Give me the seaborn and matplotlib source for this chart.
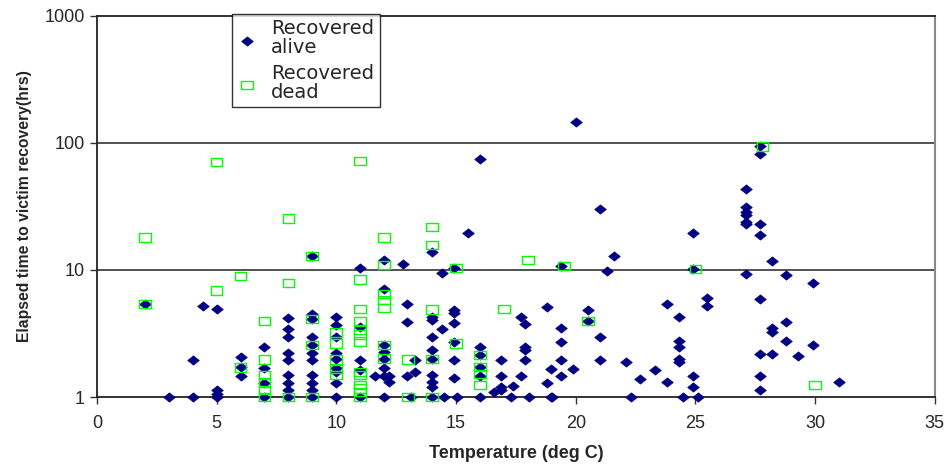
"""
Elapsed time to victim recovery vs water temperature.
Scatter on a log y axis, two series: recovered alive / recovered dead.
"""

import matplotlib
matplotlib.use('Agg')
import matplotlib.pyplot as plt
import matplotlib.ticker as mticker
import pandas as pd
import seaborn as sns

# ------------------------------
# Data
# ------------------------------
alive_temp = [
    2, 3, 4, 4, 4.45, 5, 5, 5, 5, 6, 6, 6, 7, 7, 7, 7,
    8, 8, 8, 8, 8, 8, 8, 8, 8,
    9, 9, 9, 9, 9, 9, 9, 9, 9, 9, 9,
    10, 10, 10, 10, 10, 10, 10, 10, 10,
    11, 11, 11, 11, 11, 11.6,
    12, 12, 12, 12, 12, 12, 12, 12, 12.2, 12.2, 12.8,
    12.95, 12.95, 12.95, 13.1, 13.3, 13.3,
    14, 14, 14, 14, 14, 14, 14, 14, 14, 14, 14.4, 14.4, 14.5,
    14.9, 14.9, 14.9, 14.9, 14.9, 14.9, 14.9, 15.05, 15.5,
    16, 16, 16, 16, 16, 16, 16.6, 16.9, 16.9, 16.9, 16.9, 17.3, 17.4,
    17.7, 17.7, 17.9, 17.9, 17.9, 17.9, 18.05,
    18.8, 18.8, 18.95, 18.95, 19.03,
    19.4, 19.4, 19.4, 19.4, 19.4, 19.9, 20,
    20.5, 20.5, 21, 21, 21, 21.3, 21.6,
    22.1, 22.3, 22.7, 23.3, 23.8, 23.8,
    24.3, 24.3, 24.3, 24.3, 24.3, 24.5,
    24.9, 24.9, 24.9, 24.9, 25.1, 25.5, 25.5,
    27.1, 27.1, 27.1, 27.1, 27.1, 27.1, 27.1,
    27.7, 27.7, 27.7, 27.7, 27.7, 27.7, 27.7, 27.7,
    28.2, 28.2, 28.2, 28.2, 28.8, 28.8, 28.8, 29.3, 29.9, 29.9, 31.0,
]
alive_hours = [
    5.4, 1, 1, 1.96, 5.2, 4.93, 1.13, 1.05, 1, 2.05, 1.71, 1.46, 2.46, 1.68, 1.28, 1,
    4.17, 3.41, 2.95, 2.24, 1.96, 1.49, 1.28, 1.13, 1,
    12.9, 4.5, 4.1, 2.95, 2.57, 2.24, 1.96, 1.49, 1.28, 1.13, 1,
    4.24, 3.69, 2.98, 2.21, 1.98, 1.68, 1.56, 1.28, 1,
    10.3, 3.54, 1.96, 1.63, 1, 1.46,
    12, 7.1, 2.57, 2.27, 2.01, 1.68, 1.46, 1, 1.46, 1.32, 11.1,
    5.4, 3.92, 1.46, 1, 1.96, 1.58,
    13.8, 4.29, 4.04, 2.98, 2.34, 1.98, 1.5, 1.32, 1.2, 1, 9.5, 3.41, 1,
    10.4, 4.84, 4.6, 3.8, 2.7, 1.96, 1.42, 1, 19.6,
    75, 2.49, 2.14, 1.73, 1.47, 1, 1.1, 1.96, 1.47, 1.2, 1.13, 1, 1.22,
    4.3, 1.47, 3.76, 2.49, 2.34, 1.96, 1,
    5.14, 1.3, 1.66, 1, 1,
    10.8, 3.47, 2.7, 1.96, 1.47, 1.66, 147,
    4.84, 3.97, 30, 2.95, 1.96, 9.9, 12.9,
    1.9, 1, 1.38, 1.63, 5.4, 1.32,
    4.29, 2.78, 2.49, 2.0, 1.9, 1,
    19.7, 10.2, 1.47, 1.2, 1, 6.0, 5.2,
    43, 31.2, 28.8, 27.1, 24.0, 23.0, 9.3,
    94, 82, 22.9, 18.9, 5.9, 2.17, 1.46, 1.13,
    11.8, 3.47, 3.27, 2.2, 9.1, 3.92, 2.78, 2.1, 7.95, 2.57, 1.32,
]

dead_temp = [
    2, 2, 5, 5, 6, 6, 7, 7, 7, 7, 7, 7, 8, 8, 8, 9, 9, 9, 9,
    10, 10, 10, 10, 10,
    11, 11, 11, 11, 11, 11, 11, 11, 11, 11, 11, 11, 11,
    12, 12, 12, 12, 12, 12, 12, 13, 13, 14, 14, 14, 14, 14,
    15, 15, 16, 16, 16, 16, 17, 18, 19.5, 20.5, 25, 27.8, 30,
]
dead_hours = [
    18, 5.4, 71, 6.9, 9.0, 1.71, 3.97, 1.98, 1.49, 1.3, 1.13, 1, 25.5, 7.9, 1, 12.9, 4.1, 2.57, 1,
    3.21, 2.64, 1.98, 1.66, 1.49,
    72, 8.4, 4.93, 3.97, 3.37, 3.11, 2.73, 1.58, 1.49, 1.24, 1.17, 1.1, 1,
    18, 11.0, 6.5, 5.8, 5.0, 2.57, 2.01, 1.98, 1, 21.7, 15.7, 4.9, 2.0, 1,
    10.4, 2.64, 2.14, 1.73, 1.52, 1.24, 4.93, 12.0, 10.8, 3.97, 10.2, 94, 1.25,
]

x_ticks = [0, 5, 10, 15, 20, 25, 30, 35]
y_ticks = [1, 10, 100, 1000]

alive = pd.DataFrame({'Temperature': alive_temp, 'Hours': alive_hours})
dead = pd.DataFrame({'Temperature': dead_temp, 'Hours': dead_hours})

# ------------------------------
# Style (Excel-ish look)
# ------------------------------
sns.set_style('white')
plt.rcParams['font.family'] = ['Liberation Sans', 'DejaVu Sans']

# wide diamond and wide square, like the Excel markers
diamond = [(-1.25, 0), (0, 1), (1.25, 0), (0, -1), (-1.25, 0)]
rect = [(-1.4, -1), (1.4, -1), (1.4, 1), (-1.4, 1), (-1.4, -1)]

fig = plt.figure(figsize=(9.5, 4.66), dpi=100)
ax = fig.add_axes([0.102, 0.148, 0.882, 0.818])

sns.scatterplot(data=alive, x='Temperature', y='Hours', marker=diamond,
                s=70, color='#000080', edgecolor='#000080', linewidth=0.5,
                label='Recovered\nalive', ax=ax, clip_on=False, zorder=3)
sns.scatterplot(data=dead, x='Temperature', y='Hours', marker=rect,
                s=72, facecolor='none', edgecolor='#00ff00', linewidth=1.0,
                label='Recovered\ndead', ax=ax, clip_on=False, zorder=4)

ax.set_yscale('log')
ax.set_xlim(0, 35)
ax.set_ylim(1, 1000)
ax.set_xticks(x_ticks)
ax.set_yticks(y_ticks)
ax.yaxis.set_major_formatter(mticker.FormatStrFormatter('%d'))
ax.yaxis.set_minor_locator(mticker.NullLocator())
ax.tick_params(axis='both', labelsize=13, length=5, width=1, direction='out',
               color='#333333', bottom=True, left=True)
ax.tick_params(axis='x', pad=8)

for yv in [10, 100]:
    ax.axhline(yv, color='#333333', lw=1.2, zorder=1)

for side in ['left', 'bottom', 'top']:
    ax.spines[side].set_color('#222222')
    ax.spines[side].set_linewidth(1.3)
ax.spines['right'].set_color('#888888')
ax.spines['right'].set_linewidth(1.5)

ax.set_xlabel('Temperature (deg C)', fontsize=13, fontweight='bold', labelpad=9)
ax.set_ylabel('Elapsed time to victim recovery(hrs)', fontsize=11.3,
              fontweight='bold', labelpad=9)

leg = ax.legend(loc='upper left', bbox_to_anchor=(0.161, 1.006),
                prop={'family': 'DejaVu Sans', 'size': 14},
                frameon=True, fancybox=False, borderpad=0.3, handletextpad=0.7,
                labelspacing=0.35, handlelength=1.0, borderaxespad=0)
for txt in leg.get_texts():
    txt.set_linespacing(0.98)
leg.get_frame().set_edgecolor('black')
leg.get_frame().set_linewidth(1.0)

fig.savefig('out.png', dpi=100)
